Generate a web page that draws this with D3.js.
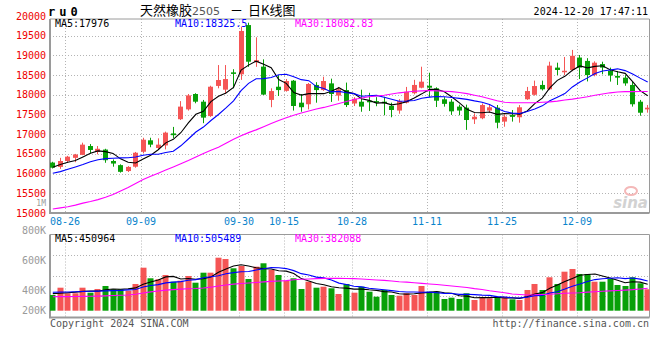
<!DOCTYPE html>
<html><head><meta charset="utf-8">
<script src="https://cdn.jsdelivr.net/npm/d3@7"></script>
<style>body{margin:0;background:#fff}svg{display:block}</style>
</head><body>
<svg id="c" width="660" height="360"></svg>
<script>
// ---------------- DATA ----------------
const dates = ["08-22","08-23","08-26","08-27","08-28","08-29","08-30",
 "09-02","09-03","09-04","09-05","09-06","09-09","09-10","09-11","09-12","09-13",
 "09-18","09-19","09-20","09-23","09-24","09-25","09-26","09-27","09-30",
 "10-08","10-09","10-10","10-11","10-14","10-15","10-16","10-17","10-18",
 "10-21","10-22","10-23","10-24","10-25","10-28","10-29","10-30","10-31","11-01",
 "11-04","11-05","11-06","11-07","11-08","11-11","11-12","11-13","11-14","11-15",
 "11-18","11-19","11-20","11-21","11-22","11-25","11-26","11-27","11-28","11-29",
 "12-02","12-03","12-04","12-05","12-06","12-09","12-10","12-11","12-12","12-13",
 "12-16","12-17","12-18","12-19","12-20"];
const openP = [16280,16170,16320,16400,16475,16700,16550,16610,16320,16215,16065,16175,16555,16845,16650,16715,17020,
 17380,17630,18020,17825,17460,18225,18130,18570,18520,19770,18830,18715,17870,18205,18100,18358,17800,17760,
 18250,18120,18290,17980,18120,17780,17825,17850,17840,17825,17720,17600,17800,18040,18180,18230,18165,17886,17825,17700,
 17673,17378,17405,17600,17673,17320,17487,17430,17886,18000,18250,18140,18690,18590,18630,18945,18860,18500,18780,18612,
 18480,18435,18250,17825,17630];
const highP = [16300,16400,16450,16500,16785,16750,16700,16630,16360,16235,16190,16550,16910,16910,16895,17065,17185,
 17840,18020,18040,17870,18230,18755,18755,18650,19730,19830,19460,18900,18165,18500,18400,18375,18020,18300,
 18320,18460,18410,18200,18310,17940,18130,18050,17940,17950,17800,17890,18200,18380,18713,18560,18190,17940,17890,17750,
 17750,17530,17780,17760,17741,17505,17614,17740,18200,18360,18360,18840,18815,18960,19140,19010,18930,18850,18840,18690,
 18605,18500,18335,17870,17741];
const lowP = [16130,16120,16280,16290,16470,16515,16490,16275,16175,16025,16040,16150,16515,16670,16600,16615,16900,
 17360,17600,17785,17280,17440,18165,18020,18165,18380,18710,18710,17995,17685,17970,18080,17600,17570,17630,
 17800,18100,17820,17850,17690,17715,17570,17590,17710,17480,17430,17520,17780,18010,18165,17940,17690,17700,17490,17480,
 17110,17260,17380,17545,17150,17190,17320,17292,17870,17980,18110,18120,18500,18500,18600,18400,18340,18470,18520,18335,
 18250,18230,17700,17470,17546];
const closeP = [16150,16320,16430,16485,16735,16600,16630,16340,16255,16045,16170,16530,16860,16735,16735,17040,16975,
 17700,17985,17825,17420,18205,18375,18400,18530,19620,18840,18880,18005,18095,18120,18350,17716,17685,18275,
 18120,18350,18020,18140,17740,17900,17700,17810,17800,17800,17615,17843,18078,18250,18333,18180,17850,17770,17580,17600,
 17360,17444,17740,17683,17292,17444,17440,17683,18096,18223,18140,18740,18630,18610,18990,18690,18500,18815,18690,18490,
 18435,18290,17760,17545,17673];
const ma5 = [16160,16230,16290,16330,16424,16514,16576,16558,16512,16374,16288,16268,16372,16468,16606,16780,16869,
 17037,17287,17505,17581,17827,17962,18045,18186,18626,18753,18854,18775,18688,18388,18290,18057,17993,18029,
 18029,18029,18090,18181,18074,18030,17900,17858,17790,17802,17745,17774,17827,17917,18024,18137,18138,18077,17943,17796,
 17632,17551,17545,17565,17504,17521,17520,17508,17591,17777,17916,18176,18366,18469,18622,18732,18684,18721,18737,18637,
 18586,18544,18333,18104,17976];
const ma10 = [16010,16050,16110,16170,16230,16300,16350,16380,16390,16399,16401,16422,16465,16490,16490,16534,16569,
 16705,16878,17056,17181,17348,17500,17666,17846,18104,18290,18408,18410,18437,18507,18522,18456,18384,18359,
 18209,18160,18074,18087,18052,18030,17965,17974,17986,17938,17888,17837,17843,17854,17913,17941,17956,17952,17930,17910,
 17884,17845,17811,17754,17650,17576,17535,17527,17578,17641,17719,17848,17937,18030,18200,18324,18430,18543,18603,18630,
 18659,18614,18527,18423,18326];
const ma30 = [15100,15130,15160,15200,15250,15290,15340,15400,15470,15560,15650,15750,15850,15930,16010,16090,16170,
 16250,16330,16420,16510,16590,16670,16770,16870,16960,17040,17110,17190,17270,17350,17420,17480,17540,17590,
 17640,17680,17730,17780,17830,17880,17920,17950,17970,17990,18020,18050,18070,18090,18100,18110,18100,18090,18080,18060,
 18030,17990,17950,17900,17850,17810,17800,17800,17800,17800,17810,17820,17840,17870,17890,17920,17950,17990,18020,18050,
 18070,18080,18080,18085,18083];
const volume = [267000,391000,296000,296000,391000,306000,369000,420000,364000,364000,340000,454000,731000,551000,534000,607000,493000,
 510000,590000,476000,646000,646000,901000,879000,721000,760000,539000,748000,806000,692000,607000,510000,551000,369000,493000,
 391000,408000,381000,284000,454000,306000,408000,323000,238000,352000,267000,255000,296000,267000,420000,323000,323000,199000,221000,199000,
 296000,182000,221000,211000,228000,238000,193000,182000,352000,454000,352000,568000,454000,663000,709000,624000,624000,493000,493000,539000,
 437000,420000,568000,466000,364000];
const volMa5 = [290000,296000,305000,315000,328000,336000,332000,356000,370000,365000,371000,388000,451000,488000,522000,575000,583000,
 539000,547000,535000,543000,574000,652000,710000,759000,781000,760000,729000,715000,709000,678000,673000,633000,546000,506000,
 463000,442000,408000,391000,384000,367000,367000,355000,346000,325000,318000,287000,282000,287000,301000,312000,326000,306000,297000,253000,
 248000,219000,224000,222000,228000,216000,218000,210000,239000,284000,307000,382000,436000,498000,549000,604000,615000,623000,589000,555000,
 517000,476000,491000,486000,450964];
const volMa10 = [313000,315000,318000,322000,326000,330000,333000,337000,341000,346000,354000,360000,404000,429000,443000,473000,486000,
 495000,517000,529000,559000,578000,595000,628000,647000,662000,667000,691000,712000,734000,730000,716000,681000,630000,608000,
 571000,558000,521000,469000,445000,415000,405000,382000,369000,355000,342000,327000,318000,317000,313000,315000,306000,294000,292000,277000,
 280000,273000,265000,260000,240000,232000,219000,217000,230000,256000,261000,300000,323000,368000,417000,455000,498000,529000,543000,552000,
 560000,546000,557000,537000,505489];
const volMa30 = [238000,240000,240000,242000,244000,246000,248000,252000,258000,262000,268000,280000,300000,320000,335000,350000,358000,
 366000,374000,378000,385000,400000,420000,438000,452000,462000,470000,480000,490000,498000,505000,512000,525000,534000,540000,
 545000,549000,551000,550000,548000,545000,540000,530000,522000,515000,505000,493000,485000,476000,465000,455000,445000,432000,420000,408000,
 395000,375000,360000,340000,323000,305000,284000,275000,268000,270000,276000,280000,288000,296000,300000,306000,315000,322000,330000,337000,
 344000,350000,358000,370000,382088];
const priceTicks = [15000,15500,16000,16500,17000,17500,18000,18500,19000,19500,20000];
const volTicks = [200000,400000,600000,800000];
const dateTicks = ["08-26","09-09","09-30","10-15","10-28","11-11","11-25","12-09"];
const maPriceLabels = ["MA5:17976","MA10:18325.5","MA30:18082.83"];
const maVolLabels = ["MA5:450964","MA10:505489","MA30:382088"];

// ---------------- CHART ----------------
const MONO = "'DejaVu Sans Mono', monospace";
const CJK = "'Noto Sans CJK SC', sans-serif";
const RED = "#f55555", GREEN = "#08a008";
const maColors = ["#000000", "#0000ff", "#ff00ff"];
const L = 50, R = 649.5, PT = 19, PB = 213, VT = 234.5, VB = 317.5;

const svg = d3.select("#c");
const x = d3.scalePoint().domain(dates).range([52.3, 647.2]);
const yP = d3.scaleLinear().domain([15000, 19500]).range([213, 35.7]);
const yV = d3.scaleLinear().domain([0, 800000]).range([310.7, 263.64]);
const yVLab = d3.scaleLinear().domain([400000, 800000]).range([290, 230.7]);

svg.append("defs").append("clipPath").attr("id","cp")
  .append("rect").attr("x",L).attr("y",PT).attr("width",R-L).attr("height",PB-PT);
svg.select("defs").append("clipPath").attr("id","cv")
  .append("rect").attr("x",L).attr("y",VT).attr("width",R-L).attr("height",VB-VT);

const grid = svg.append("g").attr("stroke","#b4b4b4").attr("stroke-dasharray","1 2").attr("stroke-width",1);
grid.selectAll(".hp").data(priceTicks.filter(v => v > 15000 && v < 20000)).join("line")
  .attr("x1",L).attr("x2",R).attr("y1",d => Math.round(yP(d))+0.5).attr("y2",d => Math.round(yP(d))+0.5);
grid.selectAll(".hv").data([1,2,3]).join("line")
  .attr("x1",L).attr("x2",R)
  .attr("y1",d => Math.round(VT + (VB-VT)*d/4 - 0.5)+0.5).attr("y2",d => Math.round(VT + (VB-VT)*d/4 - 0.5)+0.5);
dateTicks.forEach(d => {
  const gx = Math.round(x(d)) - 1.5;
  grid.append("line").attr("x1",gx).attr("x2",gx).attr("y1",PT).attr("y2",PB);
  grid.append("line").attr("x1",gx).attr("x2",gx).attr("y1",VT).attr("y2",VB);
});

const frame = svg.append("g").attr("fill","none").attr("stroke","#9a9a9a");
frame.append("path").attr("d",`M${L},${PT}H${R}V${PB}`).attr("stroke-width",1);
frame.append("path").attr("d",`M${L},${PT}V${PB}H${R}`).attr("stroke-width",2);
frame.append("path").attr("d",`M${L},${VT}H${R}V${VB}`).attr("stroke-width",1);
frame.append("path").attr("d",`M${L},${VT}V${VB}H${R}`).attr("stroke-width",2);

// sina watermark
const wm = svg.append("g");
wm.append("ellipse").attr("cx",631).attr("cy",191).attr("rx",6).attr("ry",4)
  .attr("fill","none").attr("stroke","#f4b8b8").attr("stroke-width",2);
wm.append("text").attr("x",648).attr("y",208).attr("text-anchor","end")
  .attr("font-family","'DejaVu Sans', sans-serif").attr("font-style","italic").attr("font-weight","bold")
  .attr("font-size",15).attr("fill","#d2d2d2").text("sina");

// candles
const cg = svg.append("g").attr("clip-path","url(#cp)");
dates.forEach((d, i) => {
  const cx = Math.round(x(d));
  const up = closeP[i] >= openP[i];
  const col = up ? RED : GREEN;
  cg.append("rect").attr("x",cx).attr("width",1)
    .attr("y",yP(highP[i])).attr("height",yP(lowP[i]) - yP(highP[i])).attr("fill",col);
  const y1 = yP(Math.max(openP[i], closeP[i])), y2 = yP(Math.min(openP[i], closeP[i]));
  cg.append("rect").attr("x",cx-2).attr("width",5)
    .attr("y",y1).attr("height",Math.max(1.5, y2 - y1)).attr("fill",col);
});

// price MA lines
const lineP = d3.line().x((d,i) => x(dates[i]) + 0.5).y(d => yP(d));
[ma5, ma10, ma30].forEach((s, k) => {
  cg.append("path").datum(s).attr("d",lineP).attr("fill","none")
    .attr("stroke",maColors[k]).attr("stroke-width",1.1);
});

// volume bars
const vg = svg.append("g").attr("clip-path","url(#cv)");
vg.selectAll("rect").data(volume).join("rect")
  .attr("x",(d,i) => Math.round(x(dates[i])) - 2.5)
  .attr("width",6)
  .attr("y",d => yV(d)).attr("height",d => yV(0) - yV(d))
  .attr("fill",(d,i) => closeP[i] >= openP[i] ? RED : GREEN);
const lineV = d3.line().x((d,i) => x(dates[i]) + 0.5).y(d => yV(d));
[volMa5, volMa10, volMa30].forEach((s, k) => {
  vg.append("path").datum(s).attr("d",lineV).attr("fill","none")
    .attr("stroke",maColors[k]).attr("stroke-width",1.1);
});

// price axis labels
svg.append("g").selectAll("text").data(priceTicks).join("text")
  .attr("x",46).attr("y",d => yP(d)).attr("dy","0.35em").attr("text-anchor","end")
  .attr("font-family",MONO).attr("font-size",10).attr("fill","#ee0000").text(d => d);
svg.append("text").attr("x",46).attr("y",206).attr("text-anchor","end")
  .attr("font-family",MONO).attr("font-size",8).attr("fill","#9a9a9a").text("1M");

// volume axis labels
svg.append("g").selectAll("text").data(volTicks).join("text")
  .attr("x",46).attr("y",d => Math.min(310, yVLab(d))).attr("dy","0.35em").attr("text-anchor","end")
  .attr("font-family",MONO).attr("font-size",10).attr("fill","#9a9a9a").text(d => (d/1000) + "K");

// date labels
svg.append("g").selectAll("text").data(dateTicks).join("text")
  .attr("x",d => Math.round(x(d)) - 2).attr("y",221).attr("dy","0.35em").attr("text-anchor","middle")
  .attr("font-family",MONO).attr("font-size",10).attr("fill","#0a84cc").text(d => d);

// MA legends
maPriceLabels.forEach((t, k) => {
  svg.append("text").attr("x",55 + 120*k).attr("y",27).attr("font-family",MONO).attr("font-size",10)
    .attr("fill",maColors[k]).text(t);
});
maVolLabels.forEach((t, k) => {
  svg.append("text").attr("x",55 + 120*k).attr("y",241.5).attr("font-family",MONO).attr("font-size",10)
    .attr("fill",maColors[k]).text(t);
});

// header
svg.append("text").attr("x",48).attr("y",15.5).attr("font-family",MONO).attr("font-weight","bold")
  .attr("font-size",12).attr("letter-spacing",4).attr("fill","#000").text("ru0");
const title = svg.append("text").attr("x",140).attr("y",14.5).attr("font-family",CJK).attr("font-size",13).attr("fill","#000");
title.append("tspan").text("天然橡胶");
title.append("tspan").attr("font-size",11).attr("fill","#555").attr("font-family","'DejaVu Sans', sans-serif").text("2505");
title.append("tspan").attr("dx",10).text("－");
title.append("tspan").attr("dx",5).text("日K线图");
svg.append("text").attr("x",648).attr("y",15).attr("text-anchor","end").attr("font-family",MONO)
  .attr("font-size",10).attr("fill","#000").text("2024-12-20 17:47:11");

// footer
svg.append("text").attr("x",50).attr("y",327).attr("font-family",MONO).attr("font-size",10)
  .attr("fill","#555").text("Copyright 2024 SINA.COM");
svg.append("text").attr("x",649).attr("y",327).attr("text-anchor","end").attr("font-family",MONO).attr("font-size",10)
  .attr("fill","#555").text("http://finance.sina.com.cn");
</script>
</body></html>
